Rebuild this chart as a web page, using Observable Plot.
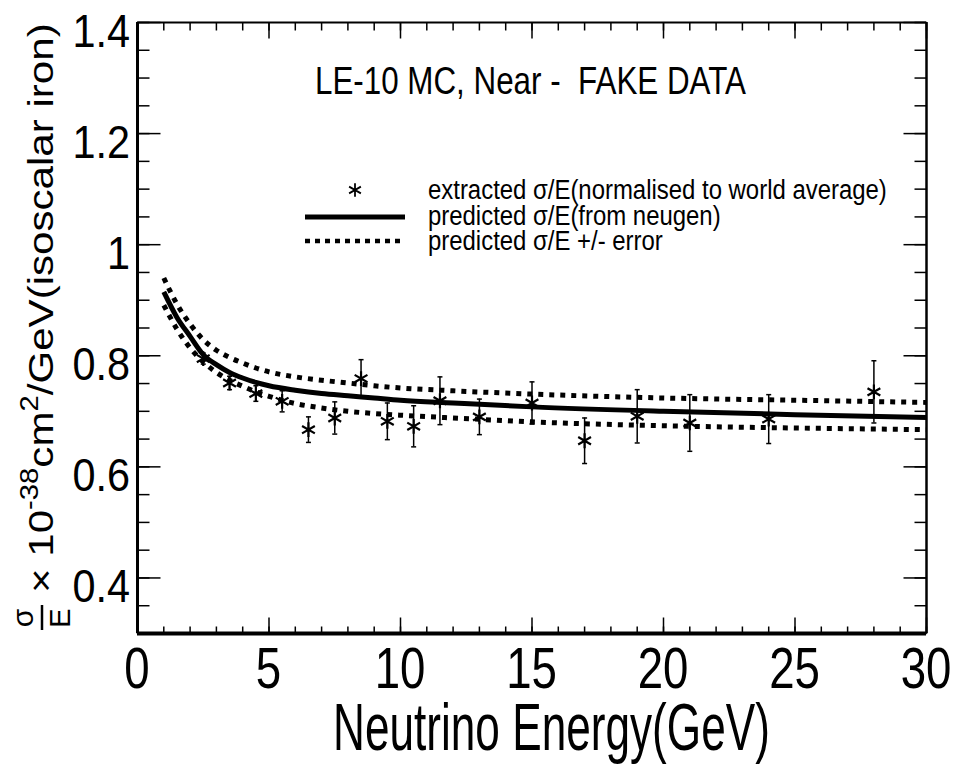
<!DOCTYPE html>
<html><head><meta charset="utf-8">
<script src="https://cdn.jsdelivr.net/npm/d3@7"></script>
<script src="https://cdn.jsdelivr.net/npm/@observablehq/plot@0.6"></script>
<style>
html,body{margin:0;padding:0;background:#fff;}
svg text{font-family:"Liberation Sans",Arial,Helvetica,sans-serif;}
</style>
</head><body><div id="chart"></div>
<script>
// ---- data ----
const energy   = [2.5, 3.5, 4.5, 5.5, 6.5, 7.5, 8.5, 9.5, 10.5, 11.5, 13, 15, 17, 19, 21, 24, 28];
const sigmaE   = [0.795, 0.751, 0.732, 0.718, 0.667, 0.688, 0.759, 0.682, 0.673, 0.719, 0.690, 0.715, 0.647, 0.691, 0.679, 0.686, 0.735];
const sigmaErr = [0.010, 0.012, 0.014, 0.019, 0.023, 0.029, 0.034, 0.033, 0.037, 0.043, 0.032, 0.038, 0.041, 0.048, 0.051, 0.044, 0.056];

const curveE        = [1, 1.5, 2, 2.5, 3, 3.5, 4, 4.5, 5, 6, 7, 8, 9, 10, 12, 15, 20, 25, 30];
const predicted     = [0.915, 0.869, 0.835, 0.802, 0.784, 0.770, 0.760, 0.752, 0.746, 0.738, 0.732, 0.728, 0.724, 0.720, 0.715, 0.708, 0.700, 0.694, 0.689];
const predictedUp   = [0.940, 0.893, 0.857, 0.829, 0.810, 0.797, 0.787, 0.778, 0.771, 0.762, 0.756, 0.751, 0.746, 0.742, 0.737, 0.731, 0.724, 0.720, 0.716];
const predictedDown = [0.891, 0.848, 0.814, 0.789, 0.770, 0.756, 0.745, 0.735, 0.727, 0.714, 0.706, 0.700, 0.696, 0.693, 0.688, 0.681, 0.674, 0.670, 0.667];

const xTicks = [0, 5, 10, 15, 20, 25, 30];
const xTickLabels = ["0", "5", "10", "15", "20", "25", "30"];
const yTicks = [0.4, 0.6, 0.8, 1.0, 1.2, 1.4];
const yTickLabels = ["0.4", "0.6", "0.8", "1", "1.2", "1.4"];
const xMinorTicks = d3.range(0, 31, 1);
const yMinorTicks = d3.range(6, 29, 1).map(k => k / 20);

const titleText = "LE-10 MC, Near -  FAKE DATA";
const xTitle = "Neutrino Energy(GeV)";
const legendLabels = ["extracted σ/E(normalised to world average)", "predicted σ/E(from neugen)", "predicted σ/E +/- error"];

// ---- tables ----
const points = energy.map((e, i) => ({e, v: sigmaE[i], lo: sigmaE[i] - sigmaErr[i], hi: sigmaE[i] + sigmaErr[i]}));
const curveRows = curveE.map((e, i) => ({e, p: predicted[i], up: predictedUp[i], down: predictedDown[i]}));

const seg = (dx, dy) => ({draw(c) { c.moveTo(0, 0); c.lineTo(dx, dy); }});
const capSym = {draw(c) { c.moveTo(-2.5, 0); c.lineTo(2.5, 0); }};
const ink = {stroke: "black", fill: "none"};

const chart = Plot.plot({
  width: 959, height: 765,
  marginLeft: 137, marginRight: 33, marginTop: 22, marginBottom: 132,
  x: {domain: [0, 30], axis: null},
  y: {domain: [0.3, 1.4], axis: null},
  style: {background: "white", overflow: "visible"},
  marks: [
    Plot.line(curveRows, {x: "e", y: "up", stroke: "black", strokeWidth: 5, strokeDasharray: "5,6", strokeLinecap: "butt", curve: "monotone-x"}),
    Plot.line(curveRows, {x: "e", y: "down", stroke: "black", strokeWidth: 5, strokeDasharray: "5,6", strokeLinecap: "butt", curve: "monotone-x"}),
    Plot.line(curveRows, {x: "e", y: "p", stroke: "black", strokeWidth: 5, strokeLinecap: "butt", curve: "monotone-x"}),
    Plot.ruleX(points, {x: "e", y1: "lo", y2: "hi", stroke: "black", strokeWidth: 1.5}),
    Plot.dot(points, {x: "e", y: "hi", symbol: capSym, ...ink, strokeWidth: 1.5}),
    Plot.dot(points, {x: "e", y: "lo", symbol: capSym, ...ink, strokeWidth: 1.5}),
    Plot.dot(points, {x: "e", y: "v", symbol: "asterisk", r: 7, ...ink, strokeWidth: 2.2}),
    // ticks (inward, all four sides)
    Plot.dot(xMinorTicks, {x: d => d, frameAnchor: "bottom", symbol: seg(0, -7), ...ink, strokeWidth: 1.5}),
    Plot.dot(xTicks, {x: d => d, frameAnchor: "bottom", symbol: seg(0, -16), ...ink, strokeWidth: 1.5}),
    Plot.dot(xMinorTicks, {x: d => d, frameAnchor: "top", symbol: seg(0, 8), ...ink, strokeWidth: 1.5}),
    Plot.dot(xTicks, {x: d => d, frameAnchor: "top", symbol: seg(0, 16), ...ink, strokeWidth: 1.5}),
    Plot.dot(yMinorTicks, {y: d => d, frameAnchor: "left", symbol: seg(12, 0), ...ink, strokeWidth: 1.5}),
    Plot.dot(yTicks, {y: d => d, frameAnchor: "left", symbol: seg(23, 0), ...ink, strokeWidth: 1.5}),
    Plot.dot(yMinorTicks, {y: d => d, frameAnchor: "right", symbol: seg(-12, 0), ...ink, strokeWidth: 1.5}),
    Plot.dot(yTicks, {y: d => d, frameAnchor: "right", symbol: seg(-23, 0), ...ink, strokeWidth: 1.5}),
    // frame
    Plot.ruleY([0.3], {stroke: "black", strokeWidth: 4}),
    Plot.ruleY([1.4], {stroke: "black", strokeWidth: 2}),
    Plot.ruleX([0], {stroke: "black", strokeWidth: 3}),
    Plot.ruleX([30], {stroke: "black", strokeWidth: 2.5})
  ]
});
document.getElementById("chart").appendChild(chart);

const xs = chart.scale("x"), ys = chart.scale("y");
const svg = d3.select(chart);

function label(x, y, txt, size, anchor, sx) {
  const g = svg.append("g").attr("transform", `translate(${x},${y}) scale(${sx},1)`);
  g.append("text").attr("font-size", size).attr("text-anchor", anchor).style("white-space", "pre").attr("fill", "black").text(txt);
  return g;
}
function fitLabel(x, y, txt, size, width) {
  const g = svg.append("g");
  const t = g.append("text").attr("font-size", size).attr("text-anchor", "start").style("white-space", "pre").attr("fill", "black").text(txt);
  const w = t.node().getComputedTextLength();
  const sx = width / w;
  g.attr("transform", `translate(${x},${y}) scale(${sx},1)`);
  return sx;
}

// tick labels via Plot's scales
yTicks.forEach((v, i) => label(130, ys.apply(v) + 24.5, yTickLabels[i], 46, "end", 0.9));
xTicks.forEach((v, i) => label(xs.apply(v), 688, xTickLabels[i], 57, "middle", 0.8));

// title
fitLabel(315, 94, titleText, 38, 431);
// x title
fitLabel(333, 750, xTitle, 66, 437);

// legend
const sxL = fitLabel(428, 199, legendLabels[0], 27, 459);
[1, 2].forEach(i => {
  const g = svg.append("g").attr("transform", `translate(428,${199 + 25.5 * i}) scale(${sxL},1)`);
  g.append("text").attr("font-size", 27).attr("text-anchor", "start").style("white-space", "pre").text(legendLabels[i]);
});
svg.append("path").attr("transform", "translate(355,190)").attr("d", d3.symbol(d3.symbolAsterisk, 130)()).attr("stroke", "black").attr("stroke-width", 1.8).attr("fill", "none");
svg.append("line").attr("x1", 305).attr("x2", 405).attr("y1", 217).attr("y2", 217).attr("stroke", "black").attr("stroke-width", 5);
svg.append("line").attr("x1", 305).attr("x2", 405).attr("y1", 241).attr("y2", 241).attr("stroke", "black").attr("stroke-width", 4.5).attr("stroke-dasharray", "5,5");

// y title (rotated, with fraction and superscripts)
const yt = svg.append("g").attr("transform", "translate(53,632) rotate(-90)");
yt.append("text").attr("x", 14).attr("y", -20).attr("text-anchor", "middle").attr("font-size", 30).text("σ");
yt.append("line").attr("x1", 2).attr("x2", 27).attr("y1", -11).attr("y2", -11).attr("stroke", "black").attr("stroke-width", 2.5);
yt.append("text").attr("x", 14).attr("y", 17).attr("text-anchor", "middle").attr("font-size", 29).text("E");
const main = yt.append("g");
const mt = main.append("text").attr("font-size", 36).attr("text-anchor", "start").style("white-space", "pre");
mt.append("tspan").text("× 10");
mt.append("tspan").attr("dy", -15).attr("font-size", 25).text("-38");
mt.append("tspan").attr("dy", 15).text("cm");
mt.append("tspan").attr("dy", -15).attr("font-size", 25).text("2");
mt.append("tspan").attr("dy", 15).text("/GeV(isoscalar iron)");
const mw = mt.node().getComputedTextLength();
main.attr("transform", `translate(39,0) scale(${570 / mw},1)`);
</script>
</body></html>
